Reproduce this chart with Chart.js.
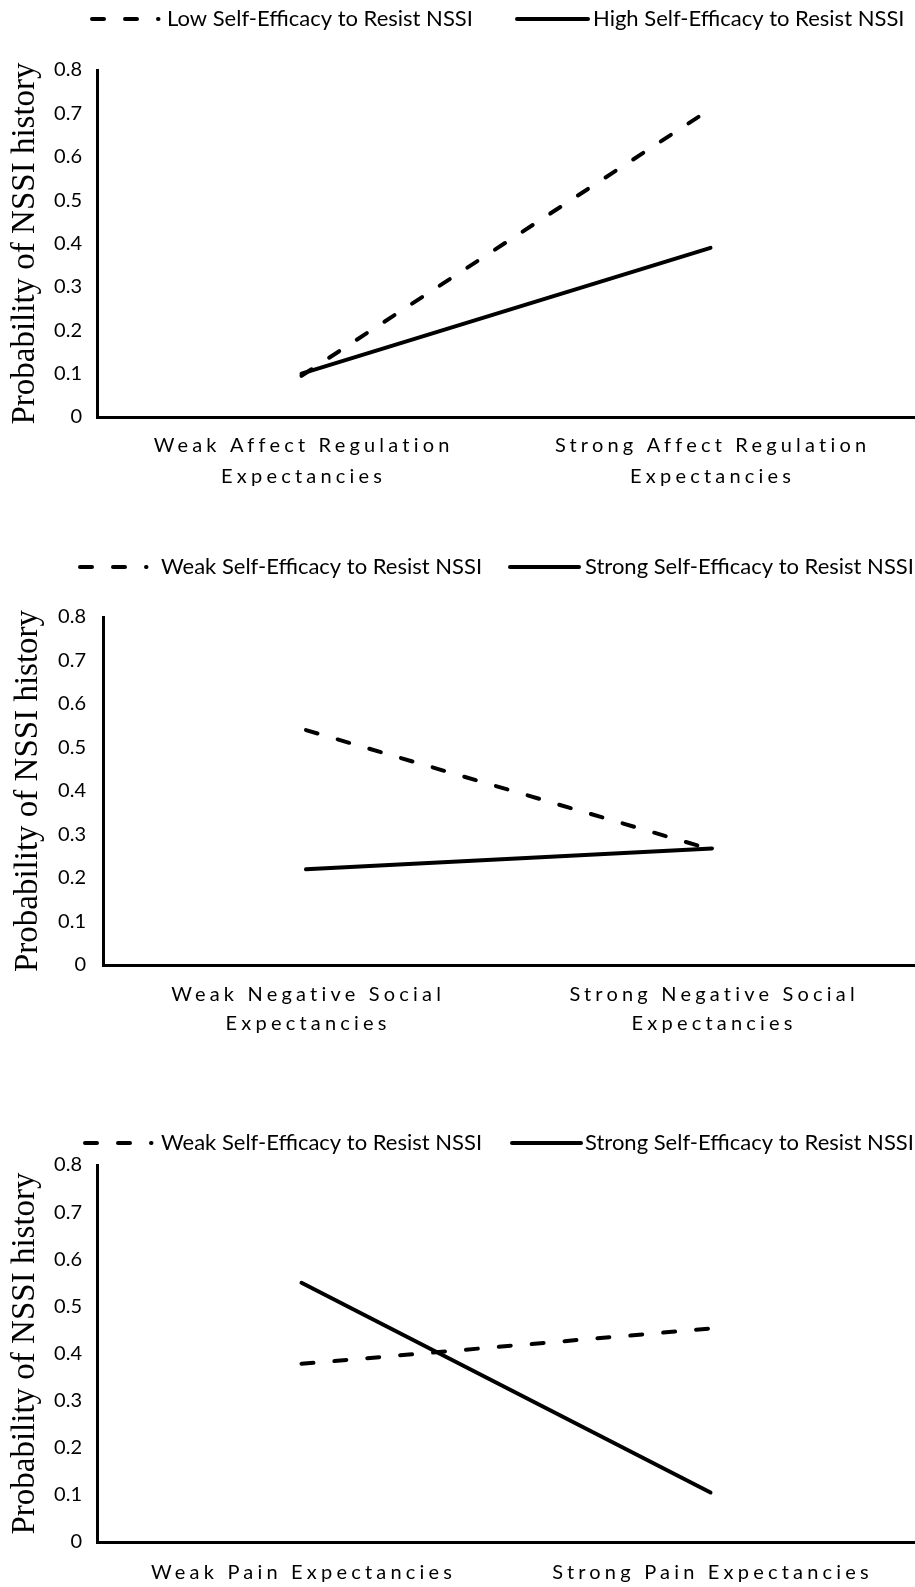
<!DOCTYPE html>
<html>
<head>
<meta charset="utf-8">
<script src="https://cdn.jsdelivr.net/npm/chart.js@4.4.1/dist/chart.umd.min.js"></script>
<style>
  html, body { margin: 0; padding: 0; background: #ffffff; }
  #page { position: relative; width: 915px; height: 1587px; overflow: hidden; }
  canvas { position: absolute; left: 0; }
</style>
</head>
<body>
<div id="page">
  <canvas id="affect" width="915" height="520" style="top:0px"></canvas>
  <canvas id="social" width="915" height="540" style="top:520px"></canvas>
  <canvas id="pain" width="915" height="527" style="top:1060px"></canvas>
</div>
<script>
// Shared y-axis ticks
const yTickLabels = ['0', '0.1', '0.2', '0.3', '0.4', '0.5', '0.6', '0.7', '0.8'];
const yAxisTitle = 'Probability of NSSI history';

// Panel 1: affect regulation expectancies
const affectCategories = [['Weak Affect Regulation', 'Expectancies'], ['Strong Affect Regulation', 'Expectancies']];
const affectSeriesNames = ['Low Self-Efficacy to Resist NSSI', 'High Self-Efficacy to Resist NSSI'];
const affectLowSE = [0.095, 0.71];
const affectHighSE = [0.10, 0.39];

// Panel 2: negative social expectancies
const socialCategories = [['Weak Negative Social', 'Expectancies'], ['Strong Negative Social', 'Expectancies']];
const socialSeriesNames = ['Weak Self-Efficacy to Resist NSSI', 'Strong Self-Efficacy to Resist NSSI'];
const socialWeakSE = [0.54, 0.265];
const socialStrongSE = [0.22, 0.268];

// Panel 3: pain expectancies
const painCategories = ['Weak Pain Expectancies', 'Strong Pain Expectancies'];
const painSeriesNames = ['Weak Self-Efficacy to Resist NSSI', 'Strong Self-Efficacy to Resist NSSI'];
const painWeakSE = [0.378, 0.453];
const painStrongSE = [0.55, 0.105];

const SANS = 'Lato, "Noto Sans", sans-serif';
const SERIF = '"Liberation Serif", "DejaVu Serif", serif';
const DASH = [12, 21];

// Draws the spaced category labels and the legend row on top of each panel
const panelDecor = {
  id: 'panelDecor',
  afterDraw(chart, args, o) {
    const ctx = chart.ctx;
    const xs = chart.scales.x;
    ctx.save();
    ctx.fillStyle = '#000';
    ctx.textAlign = 'center';
    ctx.textBaseline = 'middle';
    ctx.font = o.labelSize + 'px ' + SANS;
    ctx.letterSpacing = o.labelSpacing + 'px';
    chart.data.labels.forEach((lab, i) => {
      const px = xs.getPixelForTick(i) + o.labelSpacing / 2;
      const lines = Array.isArray(lab) ? lab : [lab];
      lines.forEach((ln, j) => ctx.fillText(ln, px, o.labelY + j * o.labelGap));
    });
    ctx.letterSpacing = '0px';

    // legend row
    ctx.textAlign = 'left';
    ctx.font = o.legendSize + 'px ' + SANS;
    chart.data.datasets.forEach((ds, i) => {
      const item = o.legend[i];
      ctx.save();
      ctx.strokeStyle = ds.borderColor;
      ctx.lineWidth = ds.borderWidth;
      ctx.lineCap = 'round';
      ctx.setLineDash(ds.borderDash || []);
      ctx.beginPath();
      ctx.moveTo(item.x0, o.legendY);
      ctx.lineTo(item.x1, o.legendY);
      ctx.stroke();
      ctx.restore();
      ctx.fillText(ds.label, item.tx, o.legendY);
    });
    ctx.restore();
  }
};

function buildPanel(id, categories, names, dashedVals, solidVals, L) {
  const canvas = document.getElementById(id);
  const H = canvas.height;
  return new Chart(canvas, {
    type: 'line',
    data: {
      labels: categories,
      datasets: [
        { label: names[0], data: dashedVals, borderColor: '#000', borderWidth: 4,
          borderDash: DASH, borderCapStyle: 'round', pointRadius: 0, fill: false, tension: 0 },
        { label: names[1], data: solidVals, borderColor: '#000', borderWidth: 4,
          borderCapStyle: 'round', pointRadius: 0, fill: false, tension: 0 }
      ]
    },
    options: {
      responsive: false,
      animation: false,
      events: [],
      layout: { padding: { top: L.top, bottom: H - L.bottom - 1, left: 0, right: 0 } },
      plugins: {
        legend: { display: false },
        tooltip: { enabled: false },
        panelDecor: L.decor
      },
      scales: {
        x: {
          type: 'category',
          offset: true,
          grid: { display: false, drawTicks: false },
          border: { display: true, color: '#000', width: 3 },
          ticks: { display: false },
          afterFit(s) { s.height = 1; }
        },
        y: {
          min: 0,
          max: 0.8,
          grid: { display: false, drawTicks: false },
          border: { display: true, color: '#000', width: 3 },
          ticks: {
            stepSize: 0.1,
            padding: L.tickPad,
            color: '#000',
            font: { family: SANS, size: 20 },
            callback: (v) => yTickLabels[Math.round(v * 10)]
          },
          title: {
            display: true,
            text: yAxisTitle,
            color: '#000',
            font: { family: SERIF, size: 33 },
            padding: { top: L.titlePad, bottom: 0 }
          },
          afterFit(s) { s.width = L.left; }
        }
      }
    },
    plugins: [panelDecor]
  });
}

buildPanel('affect', affectCategories, affectSeriesNames, affectLowSE, affectHighSE, {
  top: 70, bottom: 417, left: 97, tickPad: 15, titlePad: 6,
  decor: {
    labelY: 446, labelGap: 31, labelSize: 20, labelSpacing: 4.2,
    legendY: 19, legendSize: 22,
    legend: [{ x0: 92, x1: 158.5, tx: 167 }, { x0: 517, x1: 588, tx: 593 }]
  }
});

buildPanel('social', socialCategories, socialSeriesNames, socialWeakSE, socialStrongSE, {
  top: 97, bottom: 445, left: 103, tickPad: 17, titlePad: 9,
  decor: {
    labelY: 475, labelGap: 29, labelSize: 20, labelSpacing: 4.2,
    legendY: 47, legendSize: 22,
    legend: [{ x0: 80, x1: 146.5, tx: 161 }, { x0: 510, x1: 579, tx: 585 }]
  }
});

buildPanel('pain', painCategories, painSeriesNames, painWeakSE, painStrongSE, {
  top: 105, bottom: 482, left: 97, tickPad: 15, titlePad: 6,
  decor: {
    labelY: 513, labelGap: 29, labelSize: 20, labelSpacing: 4.2,
    legendY: 83, legendSize: 22,
    legend: [{ x0: 85, x1: 151.5, tx: 161 }, { x0: 512, x1: 581, tx: 585 }]
  }
});
</script>
</body>
</html>
